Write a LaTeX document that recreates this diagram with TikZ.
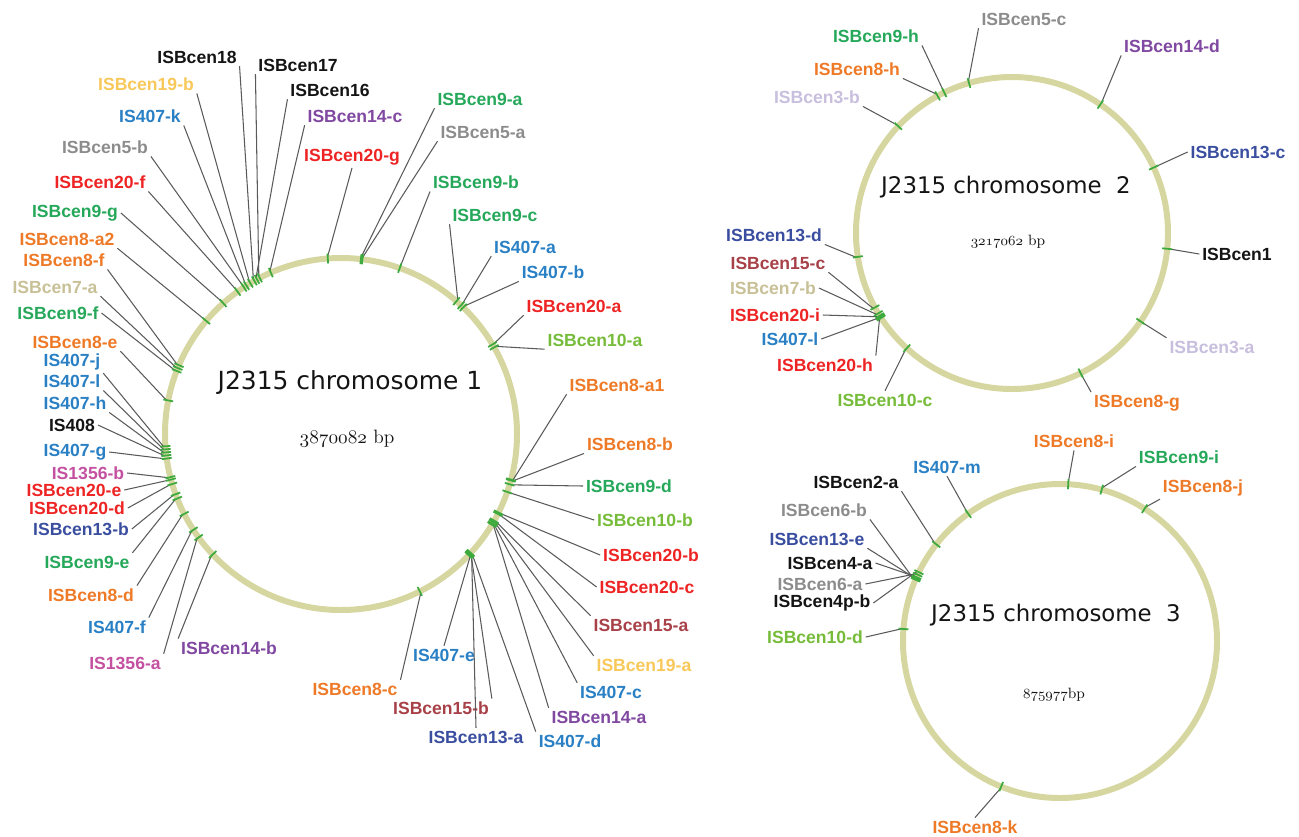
\documentclass[tikz,border=0pt]{standalone}
\usepackage{fontspec}
\setsansfont{Liberation Sans}
\newfontfamily\chromfont{DejaVu Sans}
% old-style figures from the math italic font
\newcommand{\osf}[1]{{\usefont{OML}{cmm}{m}{it}#1}}

\definecolor{ringcol}{RGB}{214,214,160}
\definecolor{tickgreen}{RGB}{60,170,60}
\definecolor{leadgray}{RGB}{90,90,90}
\definecolor{cblack}{RGB}{20,20,20}
\definecolor{cblue}{RGB}{41,128,196}
\definecolor{cnavy}{RGB}{58,78,160}
\definecolor{cgreen}{RGB}{38,168,90}
\definecolor{clime}{RGB}{118,188,58}
\definecolor{corange}{RGB}{238,122,40}
\definecolor{cred}{RGB}{238,36,36}
\definecolor{cpurple}{RGB}{128,72,160}
\definecolor{cgray}{RGB}{140,140,140}
\definecolor{cbeige}{RGB}{200,192,150}
\definecolor{cyellow}{RGB}{248,200,90}
\definecolor{clav}{RGB}{200,190,222}
\definecolor{cbrown}{RGB}{168,64,72}
\definecolor{cpink}{RGB}{196,80,160}

\begin{document}
\begin{tikzpicture}[x=0.2mm,y=-0.2mm,
  lab/.style={font=\sffamily\bfseries\fontsize{10}{12}\selectfont,inner sep=1.5pt},
  lead/.style={draw=leadgray,line width=0.6pt},
  ring/.style={draw=ringcol,line width=3.4pt},
  tick/.style={draw=tickgreen,line width=1pt},
  chrom/.style={font=\chromfont\fontsize{14.2}{16}\selectfont,text=cblack},
  chromsmall/.style={font=\chromfont\fontsize{13}{15}\selectfont,text=cblack},
  bp/.style={font=\fontsize{11}{13}\selectfont,text=cblack}]
\useasboundingbox (0,0) rectangle (1299,836);

% ---- chromosome 1 ----
\coordinate (c1) at (341,434);
\draw[ring] (c1) circle[radius=176];
\node[chrom] (name1) at (350,383) {J2315 chromosome 1};
\node[bp] (size1) at (347,439) {\osf{3870082} bp};

\node[lab,text=cblack] (cen18) at (197,57) {ISBcen18};
\node[lab,text=cblack] (cen17) at (298,65) {ISBcen17};
\node[lab,text=cblack] (cen16) at (330,90) {ISBcen16};
\node[lab,text=cyellow] (cen19b) at (146,84) {ISBcen19-b};
\node[lab,text=cblue] (is407k) at (150,116) {IS407-k};
\node[lab,text=cpurple] (cen14c) at (355,116) {ISBcen14-c};
\node[lab,text=cgray] (cen5b) at (105,147) {ISBcen5-b};
\node[lab,text=cred] (cen20g) at (352,157) {ISBcen20-g};
\node[lab,text=cred] (cen20f) at (100,182) {ISBcen20-f};
\node[lab,text=cgreen] (cen9g) at (75,213) {ISBcen9-g};
\node[lab,text=corange] (cen8a2) at (67,239) {ISBcen8-a2};
\node[lab,text=corange] (cen8f) at (64,260) {ISBcen8-f};
\node[lab,text=cbeige] (cen7a) at (55,287) {ISBcen7-a};
\node[lab,text=cgreen] (cen9f) at (58,313) {ISBcen9-f};
\node[lab,text=corange] (cen8e) at (75,342) {ISBcen8-e};
\node[lab,text=cblue] (is407j) at (72,362) {IS407-j};
\node[lab,text=cblue] (is407l) at (72,381) {IS407-l};
\node[lab,text=cblue] (is407h) at (75,403) {IS407-h};
\node[lab,text=cblack] (is408) at (72,425) {IS408};
\node[lab,text=cblue] (is407g) at (75,452) {IS407-g};
\node[lab,text=cpink] (is1356b) at (88,473) {IS1356-b};
\node[lab,text=cred] (cen20e) at (74,490) {ISBcen20-e};
\node[lab,text=cred] (cen20d) at (77,508) {ISBcen20-d};
\node[lab,text=cnavy] (cen13b) at (81,529) {ISBcen13-b};
\node[lab,text=cgreen] (cen9e) at (87,562) {ISBcen9-e};
\node[lab,text=corange] (cen8d) at (91,595) {ISBcen8-d};
\node[lab,text=cblue] (is407f) at (117,627) {IS407-f};
\node[lab,text=cpink] (is1356a) at (125,663) {IS1356-a};
\node[lab,text=cpurple] (cen14b) at (229,648) {ISBcen14-b};
\node[lab,text=cgreen] (cen9a) at (480,99) {ISBcen9-a};
\node[lab,text=cgray] (cen5a) at (483,132) {ISBcen5-a};
\node[lab,text=cgreen] (cen9b) at (476,182) {ISBcen9-b};
\node[lab,text=cgreen] (cen9c) at (495,215) {ISBcen9-c};
\node[lab,text=cblue] (is407a) at (525,247) {IS407-a};
\node[lab,text=cblue] (is407b) at (553,272) {IS407-b};
\node[lab,text=cred] (cen20a) at (574,306) {ISBcen20-a};
\node[lab,text=clime] (cen10a) at (595,340) {ISBcen10-a};
\node[lab,text=corange] (cen8a1) at (617,385) {ISBcen8-a1};
\node[lab,text=corange] (cen8b) at (630,444) {ISBcen8-b};
\node[lab,text=cgreen] (cen9d) at (629,486) {ISBcen9-d};
\node[lab,text=clime] (cen10b) at (645,520) {ISBcen10-b};
\node[lab,text=cred] (cen20b) at (651,555) {ISBcen20-b};
\node[lab,text=cred] (cen20c) at (647,587) {ISBcen20-c};
\node[lab,text=cbrown] (cen15a) at (641,625) {ISBcen15-a};
\node[lab,text=cyellow] (cen19a) at (644,665) {ISBcen19-a};
\node[lab,text=cblue] (is407c) at (611,692) {IS407-c};
\node[lab,text=cpurple] (cen14a) at (599,717) {ISBcen14-a};
\node[lab,text=cblue] (is407d) at (570,741) {IS407-d};
\node[lab,text=cnavy] (cen13a) at (476,737) {ISBcen13-a};
\node[lab,text=cbrown] (cen15b) at (441,708) {ISBcen15-b};
\node[lab,text=cblue] (is407e) at (444,655) {IS407-e};
\node[lab,text=corange] (cen8c) at (355,689) {ISBcen8-c};

\draw[lead] (cen18.south east) -- ([shift={(c1)}]-119.5:178);
\draw[lead] (cen17.south west) -- ([shift={(c1)}]-117.5:178);
\draw[lead] (cen16.south west) -- ([shift={(c1)}]-118.5:178);
\draw[lead] (cen19b.south east) -- ([shift={(c1)}]-121:178);
\draw[lead] (is407k.south east) -- ([shift={(c1)}]-122.5:178);
\draw[lead] (cen14c.south west) -- ([shift={(c1)}]-113.5:178);
\draw[lead] (cen5b.south east) -- ([shift={(c1)}]-123.5:178);
\draw[lead] (cen20g.south) -- ([shift={(c1)}]-94.3:178);
\draw[lead] (cen20f.south east) -- ([shift={(c1)}]-126:178);
\draw[lead] (cen9g.east) -- ([shift={(c1)}]-132:178);
\draw[lead] (cen8a2.south east) -- ([shift={(c1)}]-140:178);
\draw[lead] (cen8f.south east) -- ([shift={(c1)}]-157:178);
\draw[lead] (cen7a.south east) -- ([shift={(c1)}]-158:178);
\draw[lead] (cen9f.east) -- ([shift={(c1)}]-159:178);
\draw[lead] (cen8e.south east) -- ([shift={(c1)}]-169:178);
\draw[lead] (is407j.south east) -- ([shift={(c1)}]176:178);
\draw[lead] (is407l.south east) -- ([shift={(c1)}]175:178);
\draw[lead] (is407h.south east) -- ([shift={(c1)}]174:178);
\draw[lead] (is408.east) -- ([shift={(c1)}]173:178);
\draw[lead] (is407g.east) -- ([shift={(c1)}]172:178);
\draw[lead] (is1356b.east) -- ([shift={(c1)}]165.8:178);
\draw[lead] (cen20e.east) -- ([shift={(c1)}]165:178);
\draw[lead] (cen20d.east) -- ([shift={(c1)}]163.5:178);
\draw[lead] (cen13b.east) -- ([shift={(c1)}]160:178);
\draw[lead] (cen9e.north east) -- ([shift={(c1)}]158.5:178);
\draw[lead] (cen8d.north east) -- ([shift={(c1)}]153:178);
\draw[lead] (is407f.north east) -- ([shift={(c1)}]147:178);
\draw[lead] (is1356a.north east) -- ([shift={(c1)}]144:178);
\draw[lead] (cen14b.north west) -- ([shift={(c1)}]136.8:178);
\draw[lead] (cen9a.south west) -- ([shift={(c1)}]-83.5:178);
\draw[lead] (cen5a.south west) -- ([shift={(c1)}]-83:178);
\draw[lead] (cen9b.south west) -- ([shift={(c1)}]-70.5:178);
\draw[lead] (cen9c.south west) -- ([shift={(c1)}]-49:178);
\draw[lead] (is407a.south west) -- ([shift={(c1)}]-47:178);
\draw[lead] (is407b.south west) -- ([shift={(c1)}]-46:178);
\draw[lead] (cen20a.south west) -- ([shift={(c1)}]-30.6:178);
\draw[lead] (cen10a.south west) -- ([shift={(c1)}]-29.5:178);
\draw[lead] (cen8a1.south west) -- ([shift={(c1)}]15:178);
\draw[lead] (cen8b.south west) -- ([shift={(c1)}]15.3:178);
\draw[lead] (cen9d.west) -- ([shift={(c1)}]16.6:178);
\draw[lead] (cen10b.west) -- ([shift={(c1)}]19.2:178);
\draw[lead] (cen20b.west) -- ([shift={(c1)}]26.5:178);
\draw[lead] (cen20c.west) -- ([shift={(c1)}]27:178);
\draw[lead] (cen15a.north west) -- ([shift={(c1)}]29.5:178);
\draw[lead] (cen19a.north west) -- ([shift={(c1)}]30:178);
\draw[lead] (is407c.north west) -- ([shift={(c1)}]30.6:178);
\draw[lead] (cen14a.north west) -- ([shift={(c1)}]31:178);
\draw[lead] (is407d.north west) -- ([shift={(c1)}]42.5:178);
\draw[lead] (cen13a.north) -- ([shift={(c1)}]42.8:178);
\draw[lead] (cen15b.north east) -- ([shift={(c1)}]43:178);
\draw[lead] (is407e.north) -- ([shift={(c1)}]43.5:178);
\draw[lead] (cen8c.north east) -- ([shift={(c1)}]63.4:178);

\foreach \a in {-119.5,-117.5,-118.5,-121,-122.5,-113.5,-123.5,-94.3,-126,-132,-140,-157,-158,-159,-169,
  176,175,174,173,172,165.8,165,163.5,160,158.5,153,147,144,136.8,
  -83.5,-83,-70.5,-49,-47,-46,-30.6,-29.5,15,15.3,16.6,19.2,26.5,27,29.5,30,30.6,31,42.5,42.8,43,43.5,63.4}
  \draw[tick] ([shift={(c1)}]\a:171) -- ([shift={(c1)}]\a:181);

% ---- chromosome 2 ----
\coordinate (c2) at (1012,233);
\draw[ring] (c2) circle[radius=156];
\node[chromsmall] (name2) at (1006,187) {J2315 chromosome\ \ 2};
\node[bp,font=\fontsize{8.5}{10}\selectfont] (size2) at (1008,242) {\osf{3217062} bp};

\node[lab,text=cgray] (cen5c) at (1024,19) {ISBcen5-c};
\node[lab,text=cgreen] (cen9h) at (876,36) {ISBcen9-h};
\node[lab,text=corange] (cen8h) at (857,69) {ISBcen8-h};
\node[lab,text=clav] (cen3b) at (817,97) {ISBcen3-b};
\node[lab,text=cpurple] (cen14d) at (1172,46) {ISBcen14-d};
\node[lab,text=cnavy] (cen13c) at (1238,152) {ISBcen13-c};
\node[lab,text=cblack] (cen1) at (1237,254) {ISBcen1};
\node[lab,text=clav] (cen3a) at (1212,347) {ISBcen3-a};
\node[lab,text=corange] (cen8g) at (1137,403) {ISBcen8-g};
\node[lab,text=clime] (cen10c) at (885,400) {ISBcen10-c};
\node[lab,text=cred] (cen20h) at (825,365) {ISBcen20-h};
\node[lab,text=cblue] (is407l2) at (790,339) {IS407-l};
\node[lab,text=cred] (cen20i) at (775,315) {ISBcen20-i};
\node[lab,text=cbeige] (cen7b) at (773,288) {ISBcen7-b};
\node[lab,text=cbrown] (cen15c) at (778,263) {ISBcen15-c};
\node[lab,text=cnavy] (cen13d) at (774,235) {ISBcen13-d};

\draw[lead] (cen5c.south west) -- ([shift={(c2)}]-106:158);
\draw[lead] (cen9h.south east) -- ([shift={(c2)}]-115.75:158);
\draw[lead] (cen8h.south east) -- ([shift={(c2)}]-118.5:158);
\draw[lead] (cen3b.south east) -- ([shift={(c2)}]-136.8:158);
\draw[lead] (cen14d.south west) -- ([shift={(c2)}]-55.5:158);
\draw[lead] (cen13c.west) -- ([shift={(c2)}]-24.8:158);
\draw[lead] (cen1.west) -- ([shift={(c2)}]5.8:158);
\draw[lead] (cen3a.north west) -- ([shift={(c2)}]34.5:158);
\draw[lead] (cen8g.north west) -- ([shift={(c2)}]63.9:158);
\draw[lead] (cen10c.north) -- ([shift={(c2)}]132.4:158);
\draw[lead] (cen20h.north east) -- ([shift={(c2)}]147:158);
\draw[lead] (is407l2.east) -- ([shift={(c2)}]147.5:158);
\draw[lead] (cen20i.east) -- ([shift={(c2)}]148:158);
\draw[lead] (cen7b.east) -- ([shift={(c2)}]149:158);
\draw[lead] (cen15c.south east) -- ([shift={(c2)}]151.5:158);
\draw[lead] (cen13d.south east) -- ([shift={(c2)}]171.2:158);

\foreach \a in {-106,-115.75,-118.5,-136.8,-55.5,-24.8,5.8,34.5,63.9,132.4,147,147.5,148,149,151.5,171.2}
  \draw[tick] ([shift={(c2)}]\a:151) -- ([shift={(c2)}]\a:161);

% ---- chromosome 3 ----
\coordinate (c3) at (1060,641);
\draw[ring] (c3) circle[radius=157];
\node[chromsmall] (name3) at (1056,615) {J2315 chromosome\ \ 3};
\node[bp,font=\fontsize{8.5}{10}\selectfont] (size3) at (1054,695) {\osf{875977}bp};

\node[lab,text=corange] (cen8i) at (1074,441) {ISBcen8-i};
\node[lab,text=cgreen] (cen9i) at (1179,457) {ISBcen9-i};
\node[lab,text=corange] (cen8j) at (1203,488) {ISBcen8-j};
\node[lab,text=cblue] (is407m) at (947,467) {IS407-m};
\node[lab,text=cblack] (cen2a) at (856,482) {ISBcen2-a};
\node[lab,text=cgray] (cen6b) at (824,510) {ISBcen6-b};
\node[lab,text=cnavy] (cen13e) at (817,539) {ISBcen13-e};
\node[lab,text=cblack] (cen4a) at (830,563) {ISBcen4-a};
\node[lab,text=cgray] (cen6a) at (820,584) {ISBcen6-a};
\node[lab,text=cblack] (cen4pb) at (822,603) {ISBcen4p-b};
\node[lab,text=clime] (cen10d) at (815,637) {ISBcen10-d};
\node[lab,text=corange] (cen8k) at (975,827) {ISBcen8-k};

\draw[lead] (cen8i.south) -- ([shift={(c3)}]-87:159);
\draw[lead] (cen9i.south west) -- ([shift={(c3)}]-74.6:159);
\draw[lead] (cen8j.south west) -- ([shift={(c3)}]-57.4:159);
\draw[lead] (is407m.south) -- ([shift={(c3)}]-125.8:159);
\draw[lead] (cen2a.south east) -- ([shift={(c3)}]-142:159);
\draw[lead] (cen6b.south east) -- ([shift={(c3)}]-157:159);
\draw[lead] (cen13e.south east) -- ([shift={(c3)}]-156.5:159);
\draw[lead] (cen4a.east) -- ([shift={(c3)}]-156:159);
\draw[lead] (cen6a.east) -- ([shift={(c3)}]-155:159);
\draw[lead] (cen4pb.east) -- ([shift={(c3)}]-154:159);
\draw[lead] (cen10d.east) -- ([shift={(c3)}]-175.6:159);
\draw[lead] (cen8k.north) -- ([shift={(c3)}]112:159);

\foreach \a in {-87,-74.6,-57.4,-125.8,-142,-157,-156.5,-156,-155,-154,-175.6,112}
  \draw[tick] ([shift={(c3)}]\a:152) -- ([shift={(c3)}]\a:162);
\end{tikzpicture}
\end{document}
